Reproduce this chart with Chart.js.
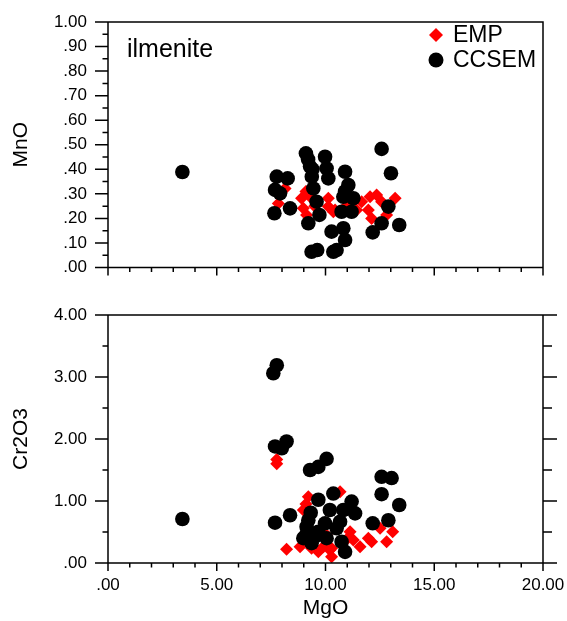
<!DOCTYPE html>
<html>
<head>
<meta charset="utf-8">
<script src="https://cdn.jsdelivr.net/npm/chart.js@4.4.1/dist/chart.umd.min.js"></script>
<style>
  body { margin: 0; background: #fff; }
  #wrap { position: relative; width: 567px; height: 621px; overflow: hidden; }
  canvas { position: absolute; left: 0; }
</style>
</head>
<body>
<div id="wrap">
  <canvas id="chart_mno" width="567" height="290" style="top:0"></canvas>
  <canvas id="chart_cr" width="567" height="331" style="top:290px"></canvas>
</div>
<script>
// tick labels
var mgoTickLabels = [".00", "5.00", "10.00", "15.00", "20.00"];
var mnoTickLabels = [".00", ".10", ".20", ".30", ".40", ".50", ".60", ".70", ".80", ".90", "1.00"];
var cr2o3TickLabels = [".00", "1.00", "2.00", "3.00", "4.00"];

// top panel: MnO vs MgO
var mgoEmpTop = [7.83, 8.14, 8.90, 8.98, 9.13, 9.29, 9.10, 9.50, 10.13, 10.13, 10.36, 10.44, 10.95, 11.43, 11.66, 11.97, 12.05, 12.12, 12.35, 12.58, 12.81, 13.20, 11.00];
var mnoEmp    = [0.261, 0.322, 0.282, 0.241, 0.214, 0.288, 0.310, 0.250, 0.282, 0.248, 0.227, 0.234, 0.250, 0.234, 0.268, 0.234, 0.288, 0.200, 0.295, 0.268, 0.214, 0.282, 0.290];

var mgoCcsemTop = [3.42, 7.76, 8.26, 7.68, 7.91, 7.65, 8.37, 9.10, 9.29, 9.37, 9.44, 9.59, 9.21, 9.72, 9.98, 10.05, 10.13, 9.36, 9.62, 10.28, 10.36,
                   12.58, 13.01, 10.90, 11.05, 10.82, 11.28, 10.74, 11.20, 12.89, 12.58, 12.17, 13.39, 10.82, 10.90, 10.51, 9.40, 9.20, 10.90];
var mnoCcsem    = [0.389, 0.370, 0.363, 0.316, 0.302, 0.221, 0.241, 0.465, 0.411, 0.370, 0.322, 0.268, 0.180, 0.214, 0.451, 0.404, 0.363, 0.064, 0.071, 0.146, 0.064,
                   0.483, 0.384, 0.390, 0.336, 0.288, 0.282, 0.227, 0.227, 0.248, 0.180, 0.143, 0.173, 0.160, 0.112, 0.071, 0.400, 0.440, 0.310];

// bottom panel: Cr2O3 vs MgO
var mgoEmpBottom = [7.76, 7.76, 8.21, 9.21, 8.98, 9.10, 8.83, 9.36, 9.67, 9.90, 10.20, 10.28, 10.67, 11.13, 11.28, 11.59, 11.97, 12.12, 12.51, 12.81, 13.09, 10.28, 10.05, 11.00];
var cr2o3Emp     = [1.60, 1.67, 0.22, 1.07, 0.855, 0.95, 0.263, 0.237, 0.18, 0.263, 0.21, 0.10, 1.15, 0.505, 0.37, 0.263, 0.40, 0.343, 0.56, 0.343, 0.505, 0.237, 0.45, 0.39];

var mgoCcsemBottom = [3.42, 7.60, 7.76, 7.68, 7.99, 8.21, 7.68, 8.37, 9.29, 9.67, 10.05, 9.67, 9.32, 10.36, 10.20, 9.13, 8.98, 9.36, 9.67, 9.98, 10.05, 10.51, 9.21, 9.10, 9.50,
                      11.20, 10.82, 11.36, 10.67, 10.74, 10.90, 12.58, 13.04, 12.58, 13.39, 12.17, 12.89];
var cr2o3Ccsem     = [0.71, 3.06, 3.19, 1.88, 1.85, 1.96, 0.65, 0.77, 1.50, 1.55, 1.68, 1.02, 0.81, 1.12, 0.855, 0.585, 0.40, 0.32, 0.505, 0.64, 0.40, 0.56, 0.69, 0.45, 0.42,
                      0.99, 0.855, 0.80, 0.666, 0.343, 0.18, 1.39, 1.37, 1.11, 0.935, 0.64, 0.69];

var FONT = "'Liberation Sans', Arial, Helvetica, sans-serif";

function pairs(xs, ys) {
    return xs.map(function (v, i) { return { x: v, y: ys[i] }; });
}

function marker(ctx, style, r, x, y) {
    ctx.beginPath();
    if (style === "rectRot") {
        ctx.moveTo(x, y - r); ctx.lineTo(x + r, y); ctx.lineTo(x, y + r); ctx.lineTo(x - r, y);
        ctx.closePath();
    } else {
        ctx.arc(x, y, r, 0, Math.PI * 2);
    }
    ctx.fill();
}

// box, major/minor ticks, legend and note, all from the chart's scales
var framePlugin = {
    id: "frame",
    afterDraw: function (chart, args, opts) {
        var ctx = chart.ctx, a = chart.chartArea, xs = chart.scales.x, ys = chart.scales.y;
        var i, v, p, n;
        ctx.save();
        ctx.strokeStyle = "#000";
        ctx.lineWidth = 1.5;
        ctx.beginPath();
        ctx.rect(a.left, a.top, a.right - a.left, a.bottom - a.top);

        n = Math.round((xs.max - xs.min) / opts.xMinor);
        for (i = 0; i <= n; i++) {
            v = xs.min + i * opts.xMinor;
            p = xs.getPixelForValue(v);
            var len = (i % Math.round(opts.xMajor / opts.xMinor) === 0) ? 8 : 4.5;
            ctx.moveTo(p, a.bottom); ctx.lineTo(p, a.bottom + len);
        }
        n = Math.round((ys.max - ys.min) / opts.yMinor);
        var every = Math.round(opts.yMajor / opts.yMinor);
        for (i = 0; i <= n; i++) {
            v = ys.min + i * opts.yMinor;
            p = ys.getPixelForValue(v);
            var major = i % every === 0;
            ctx.moveTo(a.left, p); ctx.lineTo(a.left - (major ? 13 : 5.5), p);
            if (opts.rightTicks) {
                ctx.moveTo(a.right, p); ctx.lineTo(a.right + (major ? 14 : 9), p);
            }
        }
        ctx.stroke();

        if (opts.note) {
            ctx.fillStyle = "#000";
            ctx.font = "25px " + FONT;
            ctx.textAlign = "left";
            ctx.textBaseline = "alphabetic";
            ctx.fillText(opts.note, 127, 57);
        }
        if (opts.legend) {
            ctx.font = "23px " + FONT;
            ctx.textBaseline = "middle";
            ctx.textAlign = "left";
            chart.data.datasets.slice().sort(function (d1, d2) { return d2.order - d1.order; })
                .forEach(function (ds, k) {
                    var ly = 35 + k * 25;
                    ctx.fillStyle = ds.backgroundColor;
                    marker(ctx, ds.pointStyle, ds.pointStyle === "rectRot" ? 7 : 7.5, 436, ly);
                    ctx.fillStyle = "#000";
                    ctx.fillText(ds.label, 453, ly + 1);
                });
        }
        ctx.restore();
    }
};

// tick marks are drawn by the plugin; the library's own tick marks are kept
// invisible and only reserve the room between axis and labels
var hiddenTicks = function (len) {
    return { display: true, drawOnChartArea: false, drawTicks: true, tickLength: len, tickColor: "rgba(0,0,0,0)" };
};

function buildChart(canvasId, cfg) {
    var datasets = [
        {
            label: "EMP",
            data: pairs(cfg.empX, cfg.empY),
            pointStyle: "rectRot",
            pointRadius: 6.5,
            pointHoverRadius: 6.5,
            backgroundColor: "#ff0000",
            borderWidth: 0,
            order: 2
        },
        {
            label: "CCSEM",
            data: pairs(cfg.ccX, cfg.ccY),
            pointStyle: "circle",
            pointRadius: 7.3,
            pointHoverRadius: 7.3,
            backgroundColor: "#000000",
            borderWidth: 0,
            order: 1
        }
    ];
    return new Chart(document.getElementById(canvasId).getContext("2d"), {
        type: "scatter",
        data: { datasets: datasets },
        options: {
            responsive: false,
            animation: false,
            layout: { padding: { left: 0, top: cfg.top, right: 24, bottom: 0 } },
            plugins: {
                legend: { display: false },
                tooltip: { enabled: false },
                frame: cfg.frame
            },
            scales: {
                x: {
                    type: "linear",
                    min: 0, max: 20,
                    grid: hiddenTicks(10),
                    border: { display: false },
                    ticks: {
                        display: cfg.xLabels,
                        stepSize: 5,
                        maxRotation: 0,
                        padding: 2,
                        color: "#000",
                        font: { family: FONT, size: 17 },
                        callback: function (v, i) { return mgoTickLabels[i]; }
                    },
                    title: {
                        display: cfg.xLabels,
                        text: "MgO",
                        color: "#000",
                        padding: 0,
                        font: { family: FONT, size: 21 }
                    },
                    afterFit: function (scale) { scale.height = cfg.xHeight; }
                },
                y: {
                    type: "linear",
                    min: 0, max: cfg.yMax,
                    grid: hiddenTicks(18),
                    border: { display: false },
                    ticks: {
                        stepSize: cfg.yStep,
                        autoSkip: false,
                        padding: 3,
                        color: "#000",
                        font: { family: FONT, size: 17 },
                        callback: function (v, i) { return cfg.yLabels[i]; }
                    },
                    title: {
                        display: true,
                        text: cfg.yTitle,
                        color: "#000",
                        padding: { top: 9, bottom: 0 },
                        font: { family: FONT, size: 21 }
                    },
                    afterFit: function (scale) { scale.width = 108; }
                }
            }
        },
        plugins: [framePlugin]
    });
}

var chartMno = buildChart("chart_mno", {
    empX: mgoEmpTop, empY: mnoEmp, ccX: mgoCcsemTop, ccY: mnoCcsem,
    top: 22, xHeight: 22.5, xLabels: false,
    yMax: 1, yStep: 0.1, yLabels: mnoTickLabels, yTitle: "MnO",
    frame: { xMinor: 1, xMajor: 5, yMinor: 0.05, yMajor: 0.1, rightTicks: false, legend: true, note: "ilmenite" }
});

var chartCr = buildChart("chart_cr", {
    empX: mgoEmpBottom, empY: cr2o3Emp, ccX: mgoCcsemBottom, ccY: cr2o3Ccsem,
    top: 25, xHeight: 58, xLabels: true,
    yMax: 4, yStep: 1, yLabels: cr2o3TickLabels, yTitle: "Cr2O3",
    frame: { xMinor: 1, xMajor: 5, yMinor: 0.5, yMajor: 1, rightTicks: true, legend: false, note: "" }
});
</script>
</body>
</html>
